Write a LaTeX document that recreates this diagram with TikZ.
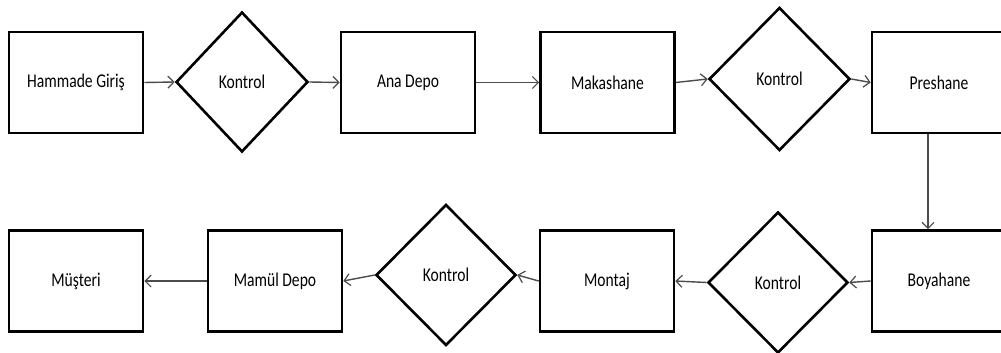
\documentclass[tikz,border=0pt]{standalone}
\usepackage{fontspec}
\setmainfont{Carlito}[FakeStretch=0.8]
\usetikzlibrary{shapes.geometric,arrows.meta}
\tikzset{
  box/.style={draw=black, line width=2.6pt, minimum width=134pt, minimum height=101pt, inner sep=0pt, outer sep=1.3pt, font=\fontsize{19.5}{23}\selectfont},
  dec/.style={draw=black, diamond, line width=2.6pt, inner sep=0pt, outer sep=1.3pt, font=\fontsize{19.5}{23}\selectfont},
  flow/.style={draw=black!70, line width=1.4pt, -{Straight Barb[length=6pt,width=12pt,line width=1.2pt]}}
}
\begin{document}
\begin{tikzpicture}[x=1pt,y=-1pt]
\clip (0,0) rectangle (1001,353);
\fill[white] (0,0) rectangle (1001,353);
% top row
\node[box] (hg) at (76,82.5) {Hammade Giriş};
\node[dec, minimum width=132pt, minimum height=140pt] (k1) at (242,82) {Kontrol};
\node[box] (ad) at (408,82.5) {Ana Depo};
\node[box] (mk) at (607.5,82.5) {Makashane};
\node[dec, minimum width=141pt, minimum height=143pt] (k2) at (779.5,79) {Kontrol};
\node[box] (pr) at (939,82.5) {Preshane};
% bottom row
\node[box] (mu) at (76,281) {Müşteri};
\node[box] (md) at (275,281) {Mamül Depo};
\node[dec, minimum width=140pt, minimum height=141pt] (k3) at (446,275) {Kontrol};
\node[box] (mo) at (607,281) {Montaj};
\node[dec, minimum width=140pt, minimum height=141pt] (k4) at (778,282.5) {Kontrol};
\node[box] (bo) at (939,281) {Boyahane};
% connectors
\draw[flow] (hg.east) -- (k1.west);
\draw[flow] (k1.east) -- (ad.west);
\draw[flow] (ad.east) -- (mk.west);
\draw[flow] (mk.east) -- (k2.west);
\draw[flow] (k2.east) -- (pr.west);
\draw[flow, line width=1.1pt] ([xshift=-11pt]pr.south) -- ([xshift=-11pt]bo.north);
\draw[flow] (bo.west) -- (k4.east);
\draw[flow] (k4.west) -- (mo.east);
\draw[flow] (mo.west) -- (k3.east);
\draw[flow] (k3.west) -- (md.east);
\draw[flow] (md.west) -- (mu.east);
\end{tikzpicture}
\end{document}
